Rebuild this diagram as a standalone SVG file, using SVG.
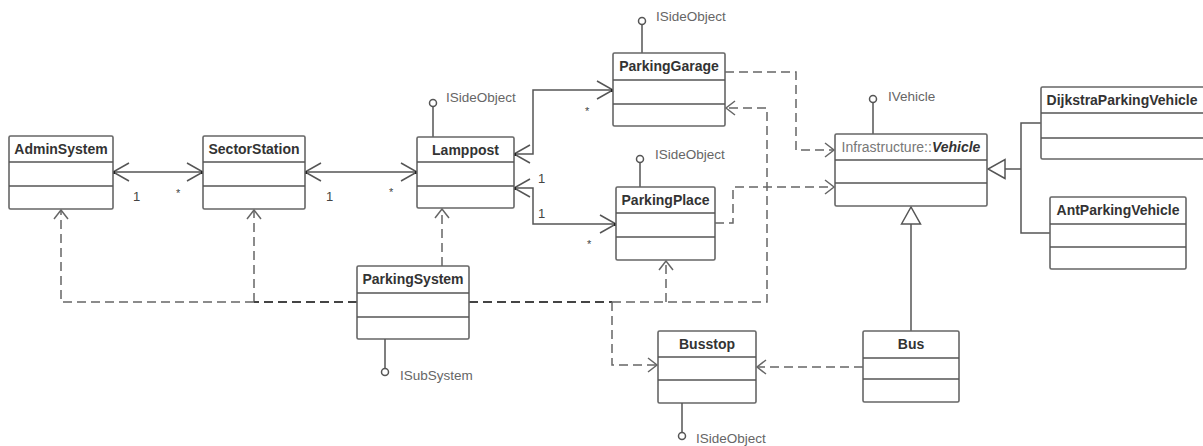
<svg xmlns="http://www.w3.org/2000/svg" width="1203" height="446" viewBox="0 0 1203 446">
<style>
.box{fill:#fff;stroke:#666;stroke-width:1.6}
.sep{stroke:#555;stroke-width:1.4}
.name{font-family:"Liberation Sans",Arial,sans-serif;font-weight:bold;font-size:14px;fill:#333;text-anchor:middle}
.lbl{font-family:"Liberation Sans",Arial,sans-serif;font-size:13.5px;fill:#666}
.mult{font-family:"Liberation Sans",Arial,sans-serif;font-size:13px;fill:#444}
.star{font-family:"Liberation Sans",Arial,sans-serif;font-size:11px;fill:#444}
.stem{stroke:#555;stroke-width:1.5;fill:none}
.lolly{fill:#fff;stroke:#555;stroke-width:1.5}
.assoc{fill:none;stroke:#555;stroke-width:1.5}
.dep{fill:none;stroke:#666;stroke-width:1.5;stroke-dasharray:9 5}
.depd{fill:none;stroke:#444;stroke-width:1.8;stroke-dasharray:9 5}
.gen{fill:none;stroke:#555;stroke-width:1.5}
.dot{fill:#222}
</style>
<defs>
<marker id="open" markerUnits="userSpaceOnUse" markerWidth="20" markerHeight="22" refX="16" refY="10" orient="auto-start-reverse" overflow="visible">
<path d="M0,1 L16,10 L0,19" fill="none" stroke="#555" stroke-width="1.5"/>
</marker>
<marker id="depArrow" markerUnits="userSpaceOnUse" markerWidth="12" markerHeight="18" refX="9" refY="8" orient="auto" overflow="visible">
<path d="M0,1 L9,8 L0,15" fill="none" stroke="#666" stroke-width="1.5"/>
</marker>
<marker id="tri" markerUnits="userSpaceOnUse" markerWidth="20" markerHeight="22" refX="17" refY="10" orient="auto" overflow="visible">
<path d="M0,0.5 L17,10 L0,19.5 Z" fill="#fff" stroke="#555" stroke-width="1.5"/>
</marker>
</defs>
<rect width="1203" height="446" fill="#fff"/>

<g id="connectors">
<!-- associations -->
<path class="assoc" d="M113,172 L203,172" marker-start="url(#open)" marker-end="url(#open)"/>
<path class="assoc" d="M305,172 L417,172" marker-start="url(#open)" marker-end="url(#open)"/>
<path class="assoc" d="M514,154 L533,154 L533,90 L613,90" marker-start="url(#open)" marker-end="url(#open)"/>
<path class="assoc" d="M514,188 L533,188 L533,224 L616,224" marker-start="url(#open)" marker-end="url(#open)"/>
<rect class="dot" x="112" y="171" width="3" height="3"/>
<rect class="dot" x="201" y="171" width="3" height="3"/>
<rect class="dot" x="304" y="171" width="3" height="3"/>
<rect class="dot" x="415" y="171" width="3" height="3"/>
<rect class="dot" x="513" y="153" width="3" height="3"/>
<rect class="dot" x="611" y="89" width="3" height="3"/>
<rect class="dot" x="513" y="187" width="3" height="3"/>
<rect class="dot" x="614" y="223" width="3" height="3"/>
<text class="mult" x="133" y="201">1</text>
<text class="star" x="176" y="197">*</text>
<text class="mult" x="326" y="201">1</text>
<text class="star" x="389" y="196">*</text>
<text class="mult" x="538" y="183">1</text>
<text class="mult" x="538" y="218">1</text>
<text class="star" x="585" y="115">*</text>
<text class="star" x="587" y="248">*</text>
<!-- dependencies -->
<path class="dep" d="M725,72 L796,72 L796,150 L834,150" marker-end="url(#depArrow)"/>
<path class="dep" d="M715,223 L733,223 L733,187 L834,187" marker-end="url(#depArrow)"/>
<path class="dep" d="M254,302 L61,302 L61,210" marker-end="url(#depArrow)"/>
<path class="dep" d="M254,302 L254,210" marker-end="url(#depArrow)"/>
<path class="depd" d="M357,302 L254,302"/>
<path class="dep" d="M442,266 L442,209" marker-end="url(#depArrow)"/>
<path class="depd" d="M469,302 L612,302"/>
<path class="dep" d="M612,302 L767,302 L767,108 L726,108" marker-end="url(#depArrow)"/>
<path class="dep" d="M666,302 L666,261" marker-end="url(#depArrow)"/>
<path class="dep" d="M612,302 L612,365 L657,365" marker-end="url(#depArrow)"/>
<path class="dep" d="M863,367 L757,367" marker-end="url(#depArrow)"/>
<!-- generalizations -->
<path class="gen" d="M911,331 L911,207" marker-end="url(#tri)"/>
<path class="gen" d="M1041,123 L1021,123 L1021,233 L1050,233"/>
<path class="gen" d="M1021,169 L988,169" marker-end="url(#tri)"/>
</g>

<g id="AdminSystem">
<rect class="box" x="9" y="136" width="104" height="73" rx="1.5"/>
<line class="sep" x1="9" y1="162" x2="113" y2="162"/>
<line class="sep" x1="9" y1="186" x2="113" y2="186"/>
<text class="name" x="61" y="154">AdminSystem</text>
</g>

<g id="SectorStation">
<rect class="box" x="203" y="136" width="102" height="73" rx="1.5"/>
<line class="sep" x1="203" y1="162" x2="305" y2="162"/>
<line class="sep" x1="203" y1="186" x2="305" y2="186"/>
<text class="name" x="254" y="154">SectorStation</text>
</g>

<g id="Lamppost">
<line class="stem" x1="433" y1="107" x2="433" y2="137"/>
<circle class="lolly" cx="433" cy="103" r="3.5"/>
<text class="lbl" x="446" y="102">ISideObject</text>
<rect class="box" x="417" y="137" width="97" height="71" rx="1.5"/>
<line class="sep" x1="417" y1="162" x2="514" y2="162"/>
<line class="sep" x1="417" y1="186" x2="514" y2="186"/>
<text class="name" x="465.5" y="155">Lamppost</text>
</g>

<g id="ParkingGarage">
<line class="stem" x1="642" y1="25" x2="642" y2="53"/>
<circle class="lolly" cx="642" cy="21" r="3.5"/>
<text class="lbl" x="656" y="21">ISideObject</text>
<rect class="box" x="613" y="53" width="112" height="73" rx="1.5"/>
<line class="sep" x1="613" y1="80" x2="725" y2="80"/>
<line class="sep" x1="613" y1="104" x2="725" y2="104"/>
<text class="name" x="669" y="71">ParkingGarage</text>
</g>

<g id="ParkingPlace">
<line class="stem" x1="640" y1="163" x2="640" y2="187"/>
<circle class="lolly" cx="640" cy="159" r="3.5"/>
<text class="lbl" x="655" y="159">ISideObject</text>
<rect class="box" x="616" y="187" width="99" height="73" rx="1.5"/>
<line class="sep" x1="616" y1="213" x2="715" y2="213"/>
<line class="sep" x1="616" y1="237" x2="715" y2="237"/>
<text class="name" x="665.5" y="205">ParkingPlace</text>
</g>

<g id="ParkingSystem">
<rect class="box" x="357" y="266" width="112" height="73" rx="1.5"/>
<line class="sep" x1="357" y1="293" x2="469" y2="293"/>
<line class="sep" x1="357" y1="317" x2="469" y2="317"/>
<text class="name" x="413" y="284">ParkingSystem</text>
<line class="stem" x1="385" y1="339" x2="385" y2="368"/>
<circle class="lolly" cx="385" cy="372" r="3.5"/>
<text class="lbl" x="400" y="380">ISubSystem</text>
</g>

<g id="Vehicle">
<line class="stem" x1="873" y1="103" x2="873" y2="134"/>
<circle class="lolly" cx="873" cy="99" r="3.5"/>
<text class="lbl" x="888" y="101">IVehicle</text>
<rect class="box" x="835" y="134" width="152" height="72" rx="1.5"/>
<line class="sep" x1="835" y1="160" x2="987" y2="160"/>
<line class="sep" x1="835" y1="183" x2="987" y2="183"/>
<text class="name" x="911" y="152"><tspan font-weight="normal" fill="#777">Infrastructure::</tspan><tspan font-style="italic" fill="#333">Vehicle</tspan></text>
</g>

<g id="DijkstraParkingVehicle">
<rect class="box" x="1041" y="87" width="170" height="72" rx="1.5"/>
<line class="sep" x1="1041" y1="113" x2="1211" y2="113"/>
<line class="sep" x1="1041" y1="138" x2="1211" y2="138"/>
<text class="name" x="1122" y="105">DijkstraParkingVehicle</text>
</g>

<g id="AntParkingVehicle">
<rect class="box" x="1050" y="197" width="136" height="72" rx="1.5"/>
<line class="sep" x1="1050" y1="224" x2="1186" y2="224"/>
<line class="sep" x1="1050" y1="247" x2="1186" y2="247"/>
<text class="name" x="1118" y="215">AntParkingVehicle</text>
</g>

<g id="Busstop">
<rect class="box" x="658" y="331" width="98" height="72" rx="1.5"/>
<line class="sep" x1="658" y1="357" x2="756" y2="357"/>
<line class="sep" x1="658" y1="380" x2="756" y2="380"/>
<text class="name" x="707" y="349">Busstop</text>
<line class="stem" x1="682" y1="403" x2="682" y2="432"/>
<circle class="lolly" cx="682" cy="436" r="3.5"/>
<text class="lbl" x="696" y="443">ISideObject</text>
</g>

<g id="Bus">
<rect class="box" x="863" y="331" width="96" height="71" rx="1.5"/>
<line class="sep" x1="863" y1="358" x2="959" y2="358"/>
<line class="sep" x1="863" y1="379" x2="959" y2="379"/>
<text class="name" x="911" y="349">Bus</text>
</g>
</svg>
